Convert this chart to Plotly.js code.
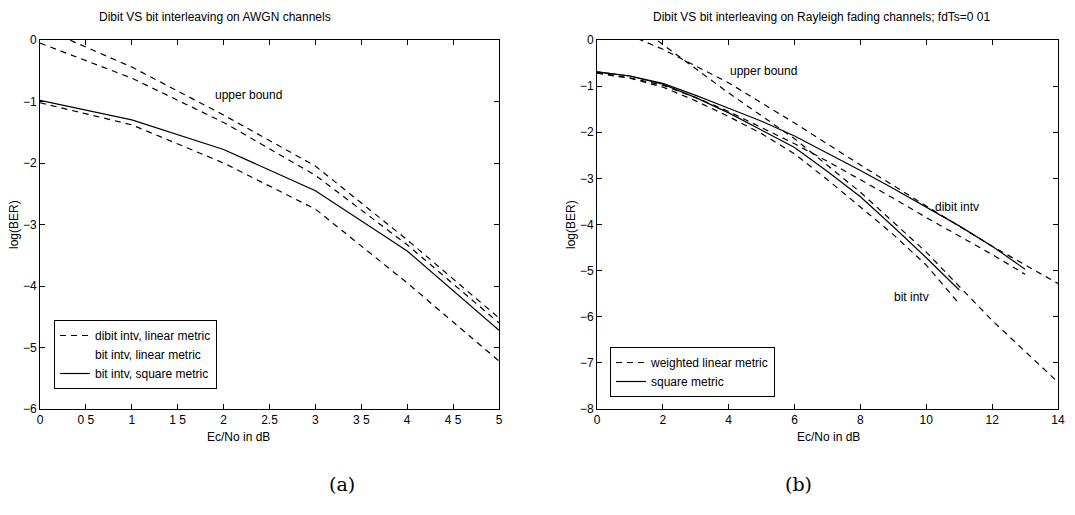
<!DOCTYPE html>
<html>
<head>
<meta charset="utf-8">
<script src="https://cdn.plot.ly/plotly-3.0.1.min.js"></script>
<style>html,body{margin:0;padding:0;background:#fff;}#chart{width:1075px;height:515px;}</style>
</head>
<body>
<div id="chart"></div>
<script>
// ---------- Panel (a): AWGN ----------
const awgnX = [0, 1, 2, 3, 4, 5];
const awgnUpperA = [0.21, -0.44, -1.22, -2.05, -3.25, -4.52];
const awgnUpperB = [-0.05, -0.62, -1.34, -2.2, -3.33, -4.6];
const awgnDibitLinear = [-1.02, -1.38, -2.0, -2.75, -3.95, -5.22];
const awgnBitSquare = [-0.98, -1.3, -1.78, -2.45, -3.43, -4.72];
const awgnTickVals = [0, 0.5, 1, 1.5, 2, 2.5, 3, 3.5, 4, 4.5, 5];
const awgnTickText = ["0", "0 5", "1", "1 5", "2", "2.5", "3", "3 5", "4", "4 5", "5"];

// ---------- Panel (b): Rayleigh fading ----------
const rayUBX = [0, 2, 4, 6, 8, 10, 12, 14];
const rayUBDibit = [0.4, -0.2, -0.93, -1.8, -2.71, -3.6, -4.47, -5.28];
const rayUBBit = [1.0, -0.1, -1.15, -2.14, -3.3, -4.6, -6.08, -7.42];
const rayDibitX = [0, 1, 2, 3, 4, 5, 6, 7, 8, 9, 10, 11, 12, 13];
const rayDibitSquare = [-0.69, -0.78, -0.94, -1.2, -1.48, -1.76, -2.08, -2.45, -2.83, -3.22, -3.62, -4.03, -4.47, -4.97];
const rayDibitLinear = [-0.71, -0.82, -0.98, -1.25, -1.55, -1.9, -2.25, -2.63, -3.03, -3.43, -3.85, -4.25, -4.65, -5.08];
const rayBitX = [0, 1, 2, 3, 4, 5, 6, 7, 8, 9, 10, 11];
const rayBitSquare = [-0.69, -0.78, -0.96, -1.25, -1.58, -1.95, -2.33, -2.85, -3.4, -4.05, -4.72, -5.42];
const rayBitLinear = [-0.72, -0.83, -1.02, -1.32, -1.66, -2.03, -2.47, -3.03, -3.62, -4.22, -4.88, -5.72];

const dashStyle = "6px,5px";
const dashed = {color: "#000", width: 1.2, dash: dashStyle};
const solid = {color: "#000", width: 1.2};

const traces = [
  // panel a
  {x: awgnX, y: awgnDibitLinear, mode: "lines", line: dashed, name: "dibit intv, linear metric", legend: "legend", xaxis: "x", yaxis: "y"},
  {x: [null], y: [null], mode: "lines", line: {color: "rgba(0,0,0,0)", width: 1}, name: "bit intv, linear metric", legend: "legend", xaxis: "x", yaxis: "y"},
  {x: awgnX, y: awgnBitSquare, mode: "lines", line: solid, name: "bit intv, square metric", legend: "legend", xaxis: "x", yaxis: "y"},
  {x: awgnX, y: awgnUpperA, mode: "lines", line: dashed, showlegend: false, xaxis: "x", yaxis: "y"},
  {x: awgnX, y: awgnUpperB, mode: "lines", line: dashed, showlegend: false, xaxis: "x", yaxis: "y"},
  // panel b
  {x: rayDibitX, y: rayDibitLinear, mode: "lines", line: dashed, name: "weighted linear metric", legend: "legend2", xaxis: "x2", yaxis: "y2"},
  {x: rayDibitX, y: rayDibitSquare, mode: "lines", line: solid, name: "square metric", legend: "legend2", xaxis: "x2", yaxis: "y2"},
  {x: rayBitX, y: rayBitLinear, mode: "lines", line: dashed, showlegend: false, xaxis: "x2", yaxis: "y2"},
  {x: rayBitX, y: rayBitSquare, mode: "lines", line: solid, showlegend: false, xaxis: "x2", yaxis: "y2"},
  {x: rayUBX, y: rayUBDibit, mode: "lines", line: dashed, showlegend: false, xaxis: "x2", yaxis: "y2"},
  {x: rayUBX, y: rayUBBit, mode: "lines", line: dashed, showlegend: false, xaxis: "x2", yaxis: "y2"}
];

const W = 1075, H = 515;
const font = {family: "Liberation Sans, Arial, Helvetica, sans-serif", size: 12, color: "#000"};
const axisCommon = {
  showline: true, linecolor: "#000", linewidth: 1, mirror: "ticks",
  ticks: "inside", ticklen: 5, tickcolor: "#000", tickwidth: 1,
  showgrid: false, zeroline: false, tickfont: {size: 12}, fixedrange: true
};
const yTop = 1 - 40 / H, yBot = 1 - 409 / H;

const layout = {
  width: W, height: H,
  margin: {l: 0, r: 0, t: 0, b: 0},
  paper_bgcolor: "#fff", plot_bgcolor: "#fff",
  font: font,
  showlegend: true,
  xaxis: Object.assign({}, axisCommon, {domain: [40 / W, 499 / W], range: [0, 5], tickvals: awgnTickVals, ticktext: awgnTickText, anchor: "y"}),
  yaxis: Object.assign({}, axisCommon, {domain: [yBot, yTop], range: [-6, 0], dtick: 1, anchor: "x"}),
  xaxis2: Object.assign({}, axisCommon, {domain: [597 / W, 1058 / W], range: [0, 14], dtick: 2, anchor: "y2"}),
  yaxis2: Object.assign({}, axisCommon, {domain: [yBot, yTop], range: [-8, 0], dtick: 1, anchor: "x2"}),
  legend: {x: 54 / W, y: 1 - 320 / H, xanchor: "left", yanchor: "top", bgcolor: "#fff", bordercolor: "#000", borderwidth: 1, font: {size: 12}, tracegroupgap: 0, itemwidth: 30},
  legend2: {x: 610 / W, y: 1 - 347 / H, xanchor: "left", yanchor: "top", bgcolor: "#fff", bordercolor: "#000", borderwidth: 1, font: {size: 12}, tracegroupgap: 0, itemwidth: 30},
  annotations: [
    {text: "Dibit VS bit interleaving on AWGN channels", xref: "paper", yref: "paper", x: 215 / W, y: 1 - 17 / H, xanchor: "center", yanchor: "middle", showarrow: false, font: {size: 12}},
    {text: "Dibit VS bit interleaving on Rayleigh fading channels; fdTs=0 01", xref: "paper", yref: "paper", x: 822 / W, y: 1 - 17 / H, xanchor: "center", yanchor: "middle", showarrow: false, font: {size: 12}},
    {text: "Ec/No in dB", xref: "paper", yref: "paper", x: 238 / W, y: 1 - 437 / H, xanchor: "center", yanchor: "middle", showarrow: false, font: {size: 12}},
    {text: "Ec/No in dB", xref: "paper", yref: "paper", x: 828 / W, y: 1 - 437 / H, xanchor: "center", yanchor: "middle", showarrow: false, font: {size: 12}},
    {text: "log(BER)", xref: "paper", yref: "paper", x: 14 / W, y: 1 - 225 / H, xanchor: "center", yanchor: "middle", textangle: -90, showarrow: false, font: {size: 12}},
    {text: "log(BER)", xref: "paper", yref: "paper", x: 571 / W, y: 1 - 225 / H, xanchor: "center", yanchor: "middle", textangle: -90, showarrow: false, font: {size: 12}},
    {text: "upper bound", xref: "x", yref: "y", x: 1.88, y: -0.89, xanchor: "left", yanchor: "middle", showarrow: false, font: {size: 12}},
    {text: "upper bound", xref: "x2", yref: "y2", x: 3.98, y: -0.68, xanchor: "left", yanchor: "middle", showarrow: false, font: {size: 12}},
    {text: "dibit intv", xref: "x2", yref: "y2", x: 10.2, y: -3.62, xanchor: "left", yanchor: "middle", showarrow: false, font: {size: 12}},
    {text: "bit intv", xref: "x2", yref: "y2", x: 8.97, y: -5.57, xanchor: "left", yanchor: "middle", showarrow: false, font: {size: 12}},
    {text: "(a)", xref: "paper", yref: "paper", x: 342 / W, y: 1 - 484 / H, xanchor: "center", yanchor: "middle", showarrow: false, font: {family: "DejaVu Serif, Liberation Serif, serif", size: 19}},
    {text: "(b)", xref: "paper", yref: "paper", x: 798 / W, y: 1 - 484 / H, xanchor: "center", yanchor: "middle", showarrow: false, font: {family: "DejaVu Serif, Liberation Serif, serif", size: 19}}
  ]
};

Plotly.newPlot("chart", traces, layout, {staticPlot: true, displayModeBar: false});
</script>
</body>
</html>
